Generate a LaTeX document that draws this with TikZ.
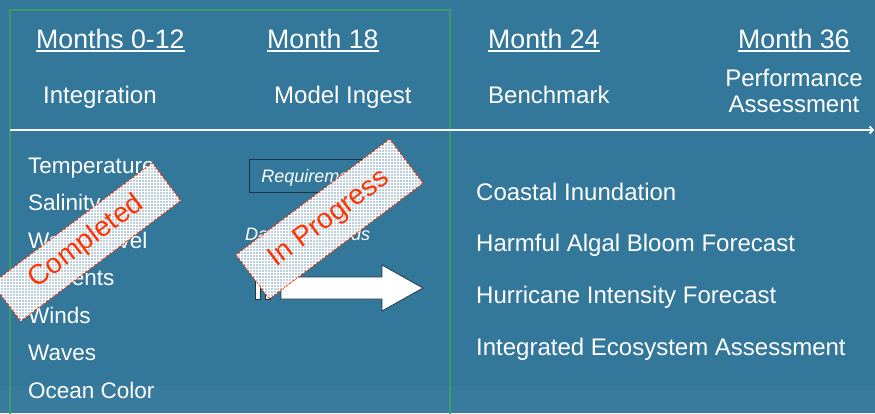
\documentclass[tikz,border=0pt]{standalone}
\usepackage{fontspec}
\setmainfont{Liberation Sans}
\usetikzlibrary{patterns, arrows.meta}
\definecolor{slide}{HTML}{33779A}
\definecolor{slidelow}{HTML}{387B9C}
\definecolor{phaseframe}{HTML}{3C9A6C}
\definecolor{stampred}{HTML}{FF3300}
\definecolor{stampfill}{HTML}{C6D7E2}
\definecolor{boxline}{HTML}{1B3645}

\tikzset{
	month/.style={anchor=base west, inner sep=0, text=white, font=\fontsize{26.7}{30}\selectfont},
	phase/.style={anchor=base west, inner sep=0, text=white, font=\fontsize{24}{26}\selectfont},
	item/.style={anchor=base west, inner sep=0, text=white, font=\fontsize{22.5}{26}\selectfont},
	goal/.style={anchor=base west, inner sep=0, text=white, font=\fontsize{24}{26}\selectfont},
	task/.style={inner sep=0, text=white, font=\fontsize{18}{20}\selectfont\itshape},
	uline/.style={white, line width=1.6pt},
	stamp/.style={draw=stampred, line width=0.8pt, fill=stampfill, fill opacity=0.93, text opacity=1,
		text=stampred, rotate=37, inner sep=0, font=\fontsize{28}{30}\selectfont,
		postaction={pattern=grid, pattern color=white}},
	blockarrow/.style={fill=white, draw=boxline, line width=0.8pt}
}

\begin{document}
\begin{tikzpicture}[x=1pt, y=-1pt]
	\useasboundingbox (0,0) rectangle (875,413);
	% Slide background
	\fill[slide] (0,0) rectangle (875,413);
	\fill[slidelow] (0,386) rectangle (875,413);
	% Completed / in progress frame
	\draw[phaseframe, line width=1.5pt] (10,420) -- (10,10) -- (450,10) -- (450,420);
	% Time line
	\coordinate (tstart) at (10,130);
	\coordinate (tend) at (874,130);
	\draw[white, line width=2pt, -{Straight Barb[length=3pt, width=7pt]}] (tstart) -- (tend);
	% Months
	\node[month] (m12) at (36,48) {Months 0-12};
	\node[month] (m18) at (267,48) {Month 18};
	\node[month] (m24) at (488,48) {Month 24};
	\node[month] (m36) at (738,48) {Month 36};
	\foreach \m in {m12, m18, m24, m36}
		\draw[uline] ([yshift=-3pt]\m.base west) -- ([yshift=-3pt]\m.base east);
	% Phases
	\node[phase] (integ) at (43,103) {Integration};
	\node[phase] (ingest) at (274,103) {Model Ingest};
	\node[phase] (bench) at (488,103) {Benchmark};
	\node[inner sep=0, text=white, font=\fontsize{24}{26}\selectfont, align=center] (perf) at (794,91.3) {Performance\\Assessment};
	% Variables
	\foreach \v [count=\i] in {Temperature, Salinity, Water Level, Currents, Winds, Waves, Ocean Color}
		\node[item] (var\i) at (28,{173+37.5*(\i-1)}) {\v};
	% Applications
	\foreach \a [count=\i] in {Coastal Inundation, Harmful Algal Bloom Forecast, Hurricane Intensity Forecast, Integrated Ecosystem Assessment}
		\node[goal] (app\i) at (476,{200+51.7*(\i-1)}) {\a};
	% Model ingest tasks
	\node[task, draw=boxline, line width=1pt, minimum width=137pt, minimum height=33pt, text height=13pt, text depth=0pt] (req) at (317.5,175.5) {Requirements};
	\node[task, anchor=base west] (std) at (245,240) {Data Standards};
	% Block arrow
	\fill[blockarrow] (255,277) rectangle (260,299);
	\fill[blockarrow] (265,277) rectangle (270,299);
	\filldraw[blockarrow] (281,277) -- (382,277) -- (382,265) -- (423,288) -- (382,311) -- (382,299) -- (281,299) -- cycle;
	\draw[boxline, line width=0.8pt] (255,277) rectangle (260,299) (265,277) rectangle (270,299);
	% Stamps
	\node[stamp, minimum width=200pt, minimum height=47pt] (done) at (86.5,242) {Completed};
	\node[stamp, minimum width=192pt, minimum height=55pt] (prog) at (329.5,219) {In Progress};
\end{tikzpicture}
\end{document}
